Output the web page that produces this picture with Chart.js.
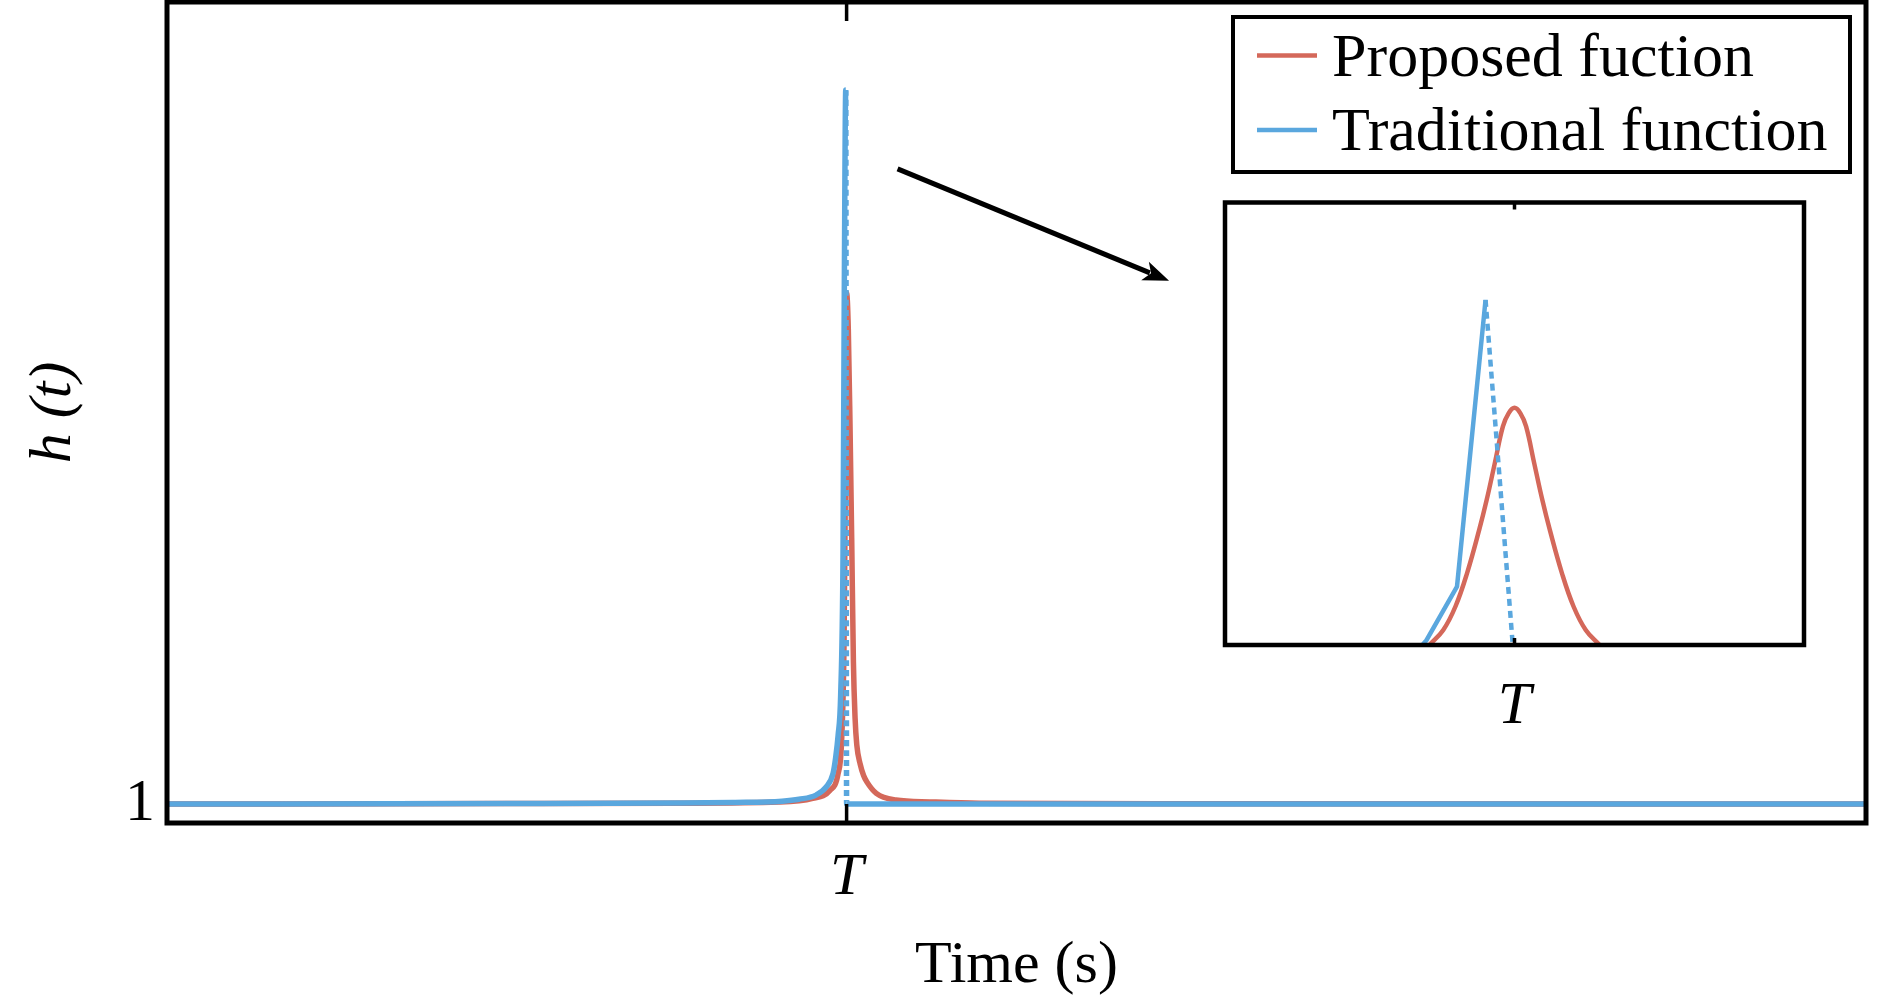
<!DOCTYPE html>
<html>
<head>
<meta charset="utf-8">
<title>h(t)</title>
<script src="https://cdn.jsdelivr.net/npm/chart.js@4.4.1/dist/chart.umd.min.js"></script>
<style>
  html, body { margin: 0; padding: 0; background: #fff; }
  #wrap { position: relative; width: 1890px; height: 1003px; }
  #mainChart { position: absolute; left: 0; top: 0; }
  #insetChart { position: absolute; left: 1210px; top: 190px; }
</style>
</head>
<body>
<div id="wrap">
  <canvas id="mainChart" width="1890" height="1003"></canvas>
  <canvas id="insetChart" width="620" height="560"></canvas>
</div>
<script>
// series (time in s, T = 4)
const T = 4;
const seriesNames = ['Proposed fuction', 'Traditional function'];
const seriesColors = ['#d4685a', '#5aa7de'];

const proposedTime = [0, 2, 3, 3.6, 3.8, 3.9, 3.95, 3.97, 3.985, 3.995, 4.0, 4.01, 4.02, 4.03, 4.04, 4.05, 4.06, 4.08, 4.1, 4.12, 4.175, 4.29, 4.49, 4.78, 6, 10];
const proposedValues = [1.0, 1.002, 1.004, 1.01, 1.03, 1.07, 1.16, 1.32, 1.85, 2.9, 3.689, 3.5, 3.0, 2.4, 1.75, 1.45, 1.31, 1.21, 1.15, 1.115, 1.056, 1.021, 1.011, 1.004, 1.001, 1.0];

const traditionalTime = [0, 2, 3, 3.33, 3.62, 3.72, 3.82, 3.88, 3.92, 3.935, 3.95, 3.965, 3.979, 3.986, 3.995, 4.0, 10];
const traditionalValues = [1.0, 1.002, 1.005, 1.008, 1.015, 1.025, 1.047, 1.09, 1.16, 1.24, 1.36, 1.57, 2.32, 3.62, 4.757, 1.0, 1.0];

// zoomed view around T (normalised height)
const insetProposedTime = [3.853, 3.877, 3.898, 3.918, 3.939, 3.952, 3.966, 3.980, 3.990, 4.000, 4.010, 4.020, 4.034, 4.048, 4.061, 4.082, 4.102, 4.123, 4.147];
const insetProposedValues = [0, 0.034, 0.087, 0.162, 0.26, 0.328, 0.411, 0.494, 0.524, 0.536, 0.524, 0.494, 0.411, 0.328, 0.26, 0.162, 0.087, 0.034, 0];
const insetTraditionalTime = [3.841, 3.848, 3.9007, 3.950, 3.997];
const insetTraditionalValues = [0, 0.011, 0.132, 0.78, 0];

const xTicks = [T];
const xTickLabels = ['T'];
const yTicks = [1];
const yTickLabels = ['1'];

// arrow from main peak to inset, in data units
const arrowFrom = [4.30, 4.342];
const arrowTo = [5.898, 3.753];

const SERIF = "'Liberation Serif', 'Times New Roman', serif";

function toPoints(xs, ys) {
  return xs.map((x, i) => ({ x: x, y: ys[i] }));
}
function peakIndex(ys) {
  return ys.indexOf(Math.max(...ys));
}

const framePlugin = {
  id: 'frame',
  afterDatasetsDraw(chart, args, opts) {
    const { ctx, chartArea: a, scales } = chart;
    ctx.save();
    ctx.strokeStyle = '#000';
    ctx.lineWidth = opts.width;
    ctx.strokeRect(a.left, a.top, a.right - a.left, a.bottom - a.top);
    ctx.lineWidth = opts.tickWidth;
    ctx.beginPath();
    xTicks.forEach(v => {
      const px = scales.x.getPixelForValue(v);
      ctx.moveTo(px, a.bottom);
      ctx.lineTo(px, a.bottom - opts.tickLength);
      ctx.moveTo(px, a.top);
      ctx.lineTo(px, a.top + opts.tickLength);
    });
    ctx.stroke();
    ctx.restore();
  }
};

const extrasPlugin = {
  id: 'extras',
  afterDraw(chart) {
    const { ctx, chartArea: a, scales } = chart;
    ctx.save();
    // arrow
    const x0 = scales.x.getPixelForValue(arrowFrom[0]), y0 = scales.y.getPixelForValue(arrowFrom[1]);
    const x1 = scales.x.getPixelForValue(arrowTo[0]), y1 = scales.y.getPixelForValue(arrowTo[1]);
    const ang = Math.atan2(y1 - y0, x1 - x0);
    const headLen = 26, headW = 10;
    ctx.strokeStyle = '#000';
    ctx.fillStyle = '#000';
    ctx.lineWidth = 5;
    ctx.beginPath();
    ctx.moveTo(x0, y0);
    ctx.lineTo(x1 - Math.cos(ang) * headLen * 0.8, y1 - Math.sin(ang) * headLen * 0.8);
    ctx.stroke();
    ctx.beginPath();
    ctx.moveTo(x1, y1);
    ctx.lineTo(x1 - Math.cos(ang) * headLen + Math.sin(ang) * headW, y1 - Math.sin(ang) * headLen - Math.cos(ang) * headW);
    ctx.lineTo(x1 - Math.cos(ang) * headLen * 0.75, y1 - Math.sin(ang) * headLen * 0.75);
    ctx.lineTo(x1 - Math.cos(ang) * headLen - Math.sin(ang) * headW, y1 - Math.sin(ang) * headLen + Math.cos(ang) * headW);
    ctx.closePath();
    ctx.fill();

    // legend box, top right
    const boxR = a.right - 16, boxL = boxR - 617, boxT = a.top + 15, boxB = boxT + 155;
    ctx.fillStyle = '#fff';
    ctx.fillRect(boxL, boxT, boxR - boxL, boxB - boxT);
    ctx.lineWidth = 4;
    ctx.strokeRect(boxL, boxT, boxR - boxL, boxB - boxT);
    ctx.font = '62px ' + SERIF;
    ctx.textBaseline = 'alphabetic';
    ctx.textAlign = 'left';
    seriesNames.forEach((name, i) => {
      const ly = boxT + 38.5 + i * 74.5;
      ctx.strokeStyle = seriesColors[i];
      ctx.lineWidth = 4.5;
      ctx.beginPath();
      ctx.moveTo(boxL + 24, ly);
      ctx.lineTo(boxL + 84, ly);
      ctx.stroke();
      ctx.fillStyle = '#000';
      ctx.fillText(name, boxL + 99, ly + 20);
    });
    ctx.restore();
  }
};

function tickSetter(values) {
  return axis => { axis.ticks = values.map(v => ({ value: v })); };
}
function tickLabel(values, labels) {
  return v => { const i = values.indexOf(v); return i >= 0 ? labels[i] : ''; };
}
function fixSize(prop, size) {
  return s => {
    s[prop] = size;
    s.paddingTop = 0; s.paddingBottom = 0;
    s.paddingLeft = 0; s.paddingRight = 0;
  };
}

const tradPeak = peakIndex(traditionalValues);
const insetTradPeak = peakIndex(insetTraditionalValues);

new Chart(document.getElementById('mainChart'), {
  type: 'line',
  data: {
    datasets: [
      {
        label: seriesNames[0],
        data: toPoints(proposedTime, proposedValues),
        borderColor: seriesColors[0],
        borderWidth: 5.5,
        pointRadius: 0,
        cubicInterpolationMode: 'monotone',
        order: 1
      },
      {
        label: seriesNames[1],
        data: toPoints(traditionalTime, traditionalValues),
        borderColor: seriesColors[1],
        borderWidth: 5.5,
        pointRadius: 0,
        cubicInterpolationMode: 'monotone',
        order: 0,
        segment: { borderDash: ctx => ctx.p0DataIndex === tradPeak ? [6, 4] : undefined }
      }
    ]
  },
  options: {
    responsive: false,
    animation: false,
    events: [],
    layout: { padding: { top: 2, right: 24, left: 0, bottom: 0 } },
    plugins: {
      legend: { display: false },
      tooltip: { enabled: false },
      frame: { width: 5, tickWidth: 3.5, tickLength: 19 }
    },
    scales: {
      x: {
        type: 'linear', min: 0, max: 10,
        grid: { display: false },
        border: { display: false },
        afterBuildTicks: tickSetter(xTicks),
        afterFit: fixSize('height', 180),
        ticks: {
          callback: tickLabel(xTicks, xTickLabels),
          color: '#000', padding: 11, maxRotation: 0,
          font: { family: SERIF, size: 60, style: 'italic' }
        },
        title: {
          display: true, text: 'Time (s)', color: '#000',
          padding: { top: 0, bottom: 1 },
          font: { family: SERIF, size: 60 }
        }
      },
      y: {
        type: 'linear', min: 0.9, max: 5.22,
        grid: { display: false },
        border: { display: false },
        afterBuildTicks: tickSetter(yTicks),
        afterFit: fixSize('width', 167),
        ticks: {
          callback: tickLabel(yTicks, yTickLabels),
          color: '#000', padding: 4,
          font: { family: SERIF, size: 60 }
        },
        title: {
          display: true, text: 'h (t)', color: '#000',
          padding: { top: 18, bottom: 0 },
          font: { family: SERIF, size: 60, style: 'italic' }
        }
      }
    }
  },
  plugins: [framePlugin, extrasPlugin]
});

new Chart(document.getElementById('insetChart'), {
  type: 'line',
  data: {
    datasets: [
      {
        label: seriesNames[0],
        data: toPoints(insetProposedTime, insetProposedValues),
        borderColor: seriesColors[0],
        borderWidth: 4.5,
        pointRadius: 0,
        tension: 0.4,
        order: 1
      },
      {
        label: seriesNames[1],
        data: toPoints(insetTraditionalTime, insetTraditionalValues),
        borderColor: seriesColors[1],
        borderWidth: 4.5,
        pointRadius: 0,
        tension: 0,
        order: 0,
        segment: { borderDash: ctx => ctx.p0DataIndex === insetTradPeak ? [7, 5] : undefined }
      }
    ]
  },
  options: {
    responsive: false,
    animation: false,
    events: [],
    layout: { padding: { top: 12.5, right: 26, left: 15, bottom: 0 } },
    plugins: {
      legend: { display: false },
      tooltip: { enabled: false },
      frame: { width: 4.5, tickWidth: 3.5, tickLength: 7 }
    },
    scales: {
      x: {
        type: 'linear', min: 3.5, max: 4.5,
        grid: { display: false },
        border: { display: false },
        afterBuildTicks: tickSetter(xTicks),
        afterFit: fixSize('height', 105),
        ticks: {
          callback: tickLabel(xTicks, xTickLabels),
          color: '#000', padding: 18, maxRotation: 0,
          font: { family: SERIF, size: 60, style: 'italic' }
        }
      },
      y: { type: 'linear', min: 0, max: 1, display: false }
    }
  },
  plugins: [framePlugin]
});
</script>
</body>
</html>
